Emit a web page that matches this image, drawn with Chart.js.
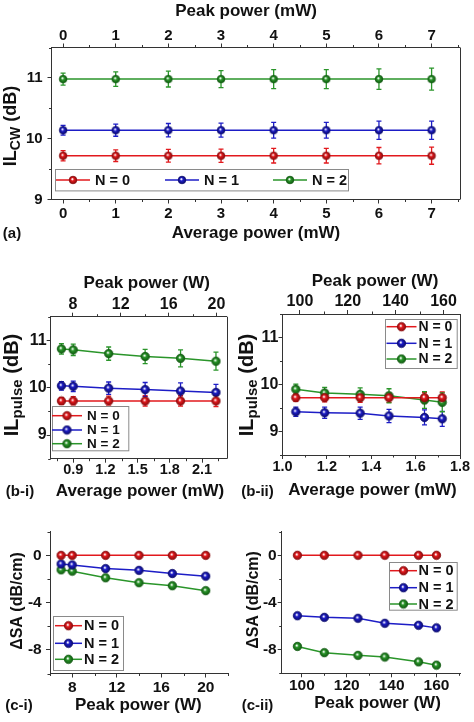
<!DOCTYPE html>
<html>
<head>
<meta charset="utf-8">
<script src="https://cdn.jsdelivr.net/npm/chart.js@4.4.0/dist/chart.umd.min.js"></script>
<style>
  html, body { margin: 0; padding: 0; background: #fff; }
  #page { position: relative; width: 474px; height: 722px; overflow: hidden; }
  #page canvas { position: absolute; }
</style>
</head>
<body>
<div id="page">
  <canvas id="chartA" width="474" height="245" style="left:0;top:0"></canvas>
  <canvas id="chartBi" width="237" height="240" style="left:0;top:265px"></canvas>
  <canvas id="chartBii" width="237" height="240" style="left:237px;top:265px"></canvas>
  <canvas id="chartCi" width="237" height="207" style="left:0;top:515px"></canvas>
  <canvas id="chartCii" width="237" height="207" style="left:237px;top:515px"></canvas>
</div>
<script>
// ---- data ----
const seriesNames = ["N = 0", "N = 1", "N = 2"];

// (a) CW
const avgPowerA = [0, 1, 2, 3, 4, 5, 6, 7];
const ilcwN0 = [9.72, 9.72, 9.72, 9.72, 9.72, 9.72, 9.72, 9.72];
const ilcwN1 = [10.14, 10.14, 10.14, 10.14, 10.14, 10.14, 10.14, 10.14];
const ilcwN2 = [10.98, 10.98, 10.98, 10.98, 10.98, 10.98, 10.98, 10.98];
const ilcwErrN0 = [0.085, 0.095, 0.105, 0.11, 0.12, 0.12, 0.135, 0.14];
const ilcwErrN1 = [0.08, 0.1, 0.11, 0.115, 0.13, 0.13, 0.15, 0.15];
const ilcwErrN2 = [0.1, 0.12, 0.13, 0.14, 0.155, 0.155, 0.17, 0.18];

// (b-i) pulse, lower peak powers
const avgPowerBi = [0.79, 0.90, 1.23, 1.57, 1.90, 2.23];
const ilpBiN0 = [9.72, 9.72, 9.72, 9.72, 9.72, 9.72];
const ilpBiN1 = [10.04, 10.03, 9.99, 9.96, 9.93, 9.90];
const ilpBiN2 = [10.82, 10.80, 10.72, 10.66, 10.62, 10.56];
const ilpBiErrN0 = [0.07, 0.09, 0.1, 0.11, 0.11, 0.12];
const ilpBiErrN1 = [0.09, 0.11, 0.13, 0.15, 0.17, 0.17];
const ilpBiErrN2 = [0.11, 0.12, 0.14, 0.15, 0.18, 0.19];

// (b-ii) pulse, higher peak powers
const avgPowerBii = [1.06, 1.19, 1.35, 1.48, 1.64, 1.72];
const ilpBiiN0 = [9.72, 9.72, 9.72, 9.72, 9.72, 9.72];
const ilpBiiN1 = [9.42, 9.40, 9.39, 9.33, 9.30, 9.27];
const ilpBiiN2 = [9.90, 9.82, 9.79, 9.76, 9.67, 9.62];
const ilpBiiErrN0 = [0.08, 0.09, 0.1, 0.1, 0.11, 0.12];
const ilpBiiErrN1 = [0.1, 0.12, 0.13, 0.14, 0.16, 0.16];
const ilpBiiErrN2 = [0.11, 0.12, 0.14, 0.15, 0.18, 0.2];

// (c-i) / (c-ii) saturable absorption
const peakPowerCi = [7, 8, 11, 14, 17, 20];
const dsaCiN0 = [0, 0, 0, 0, 0, 0];
const dsaCiN1 = [-0.73, -0.81, -1.12, -1.27, -1.54, -1.76];
const dsaCiN2 = [-1.23, -1.34, -1.9, -2.32, -2.57, -2.99];
const peakPowerCii = [98, 110, 125, 137, 152, 160];
const dsaCiiN0 = [0, 0, 0, 0, 0, 0];
const dsaCiiN1 = [-5.12, -5.26, -5.34, -5.76, -5.93, -6.15];
const dsaCiiN2 = [-7.72, -8.25, -8.48, -8.62, -9.03, -9.31];

// tick labels
const ticksA = [0, 1, 2, 3, 4, 5, 6, 7];
const ticksAy = [9, 10, 11];
const ticksBiAvg = [0.9, 1.2, 1.5, 1.8, 2.1];
const ticksBiPeak = [8, 12, 16, 20];
const ticksBiiAvg = [1.0, 1.2, 1.4, 1.6, 1.8];
const ticksBiiPeak = [100, 120, 140, 160];
const ticksBy = [9, 10, 11];
const ticksCiPeak = [8, 12, 16, 20];
const ticksCiiPeak = [100, 120, 140, 160];
const ticksCy = [0, -4, -8];

// ---- styling ----
const FONT = "'Liberation Sans', Arial, Helvetica, sans-serif";
const AXIS = "#333";
const TXT = "#111";
const COLORS = ["#e2191d", "#1d1dc6", "#2a952a"];
const DARK = ["#8a0a0c", "#0b0b70", "#105a10"];

// little shaded ball used as marker
function ball(color, dark, r) {
    const c = document.createElement("canvas");
    const s = Math.ceil(r * 2 + 2);
    c.width = c.height = s;
    const g = c.getContext("2d");
    const m = s / 2;
    const grad = g.createRadialGradient(m - r * 0.2, m - r * 0.25, r * 0.1, m, m, r);
    grad.addColorStop(0, "#ffffff");
    grad.addColorStop(0.35, color);
    grad.addColorStop(1, dark);
    g.fillStyle = grad;
    g.beginPath();
    g.arc(m, m, r, 0, Math.PI * 2);
    g.fill();
    g.lineWidth = 0.8;
    g.strokeStyle = dark;
    g.stroke();
    return c;
}

// error bars under the lines
const errorBars = {
    id: "errorBars",
    beforeDatasetsDraw(chart) {
        const ctx = chart.ctx;
        const ys = chart.scales.y;
        chart.data.datasets.forEach(function (ds, i) {
            if (!ds.errors) return;
            const meta = chart.getDatasetMeta(i);
            ctx.save();
            ctx.strokeStyle = ds.borderColor;
            ctx.lineWidth = 1.3;
            meta.data.forEach(function (pt, j) {
                const v = ds.data[j].y, e = ds.errors[j];
                const y1 = ys.getPixelForValue(v + e), y2 = ys.getPixelForValue(v - e);
                ctx.beginPath();
                ctx.moveTo(pt.x, y1); ctx.lineTo(pt.x, y2);
                ctx.moveTo(pt.x - 2.5, y1); ctx.lineTo(pt.x + 2.5, y1);
                ctx.moveTo(pt.x - 2.5, y2); ctx.lineTo(pt.x + 2.5, y2);
                ctx.stroke();
            });
            ctx.restore();
        });
    }
};

// minor ticks, right frame line, legend box and free texts
const decor = {
    id: "decor",
    afterDraw(chart, args, o) {
        const ctx = chart.ctx;
        const ca = chart.chartArea;
        const al = v => Math.round(v) + 0.5;
        ctx.save();
        ctx.strokeStyle = AXIS;
        ctx.lineWidth = 1;
        // minor ticks
        Object.keys(o.minor || {}).forEach(function (id) {
            const s = chart.scales[id];
            const step = o.minor[id];
            const majors = s.ticks.map(t => t.value);
            const k0 = Math.ceil(s.min / step - 1e-6), k1 = Math.floor(s.max / step + 1e-6);
            for (let k = k0; k <= k1; k++) {
                const v = k * step;
                if (majors.some(m => Math.abs(m - v) < step / 10)) continue;
                const p = al(s.getPixelForValue(v));
                ctx.beginPath();
                if (s.position === "bottom") { ctx.moveTo(p, ca.bottom); ctx.lineTo(p, ca.bottom + 2.5); }
                else if (s.position === "top") { ctx.moveTo(p, ca.top); ctx.lineTo(p, ca.top - 2.5); }
                else { ctx.moveTo(ca.left, p); ctx.lineTo(ca.left - 2.5, p); }
                ctx.stroke();
            }
        });
        if (o.frame) {
            ctx.beginPath();
            ctx.moveTo(al(ca.right), ca.top);
            ctx.lineTo(al(ca.right), ca.bottom);
            ctx.stroke();
        }
        const ox = o.pos[0], oy = o.pos[1];
        // legend
        if (o.legend) {
            const L = o.legend;
            ctx.fillStyle = "#fff";
            ctx.fillRect(L.box[0] - ox, L.box[1] - oy, L.box[2], L.box[3]);
            ctx.strokeStyle = "#8a8a8a";
            ctx.strokeRect(al(L.box[0] - ox), al(L.box[1] - oy), L.box[2], L.box[3]);
            ctx.font = "bold " + L.size + "px " + FONT;
            ctx.textBaseline = "middle";
            ctx.textAlign = "left";
            chart.data.datasets.forEach(function (ds, i) {
                const x0 = L.lineX[i] - ox, y0 = L.rowY[i] - oy;
                ctx.strokeStyle = ds.borderColor;
                ctx.lineWidth = 1.5;
                ctx.beginPath();
                ctx.moveTo(x0, y0); ctx.lineTo(x0 + L.lineLen, y0);
                ctx.stroke();
                const img = ds.pointStyle;
                ctx.drawImage(img, x0 + L.lineLen / 2 - img.width / 2, y0 - img.height / 2);
                ctx.fillStyle = TXT;
                ctx.fillText(ds.label, x0 + L.lineLen + L.gap, y0 + 0.5);
            });
        }
        // titles and panel labels
        (o.texts || []).forEach(function (t) {
            ctx.save();
            ctx.fillStyle = TXT;
            ctx.textBaseline = "middle";
            ctx.textAlign = "left";
            ctx.translate(t.x - ox, t.y - oy);
            if (t.rot) ctx.rotate(-Math.PI / 2);
            const main = "bold " + t.size + "px " + FONT;
            const small = "bold " + (t.subSize || t.size) + "px " + FONT;
            ctx.font = main; const w1 = ctx.measureText(t.text).width;
            ctx.font = small; const w2 = t.sub ? ctx.measureText(t.sub).width : 0;
            ctx.font = main; const w3 = t.rest ? ctx.measureText(t.rest).width : 0;
            let x = -(w1 + w2 + w3) / 2;
            ctx.font = main; ctx.fillText(t.text, x, 0); x += w1;
            if (t.sub) { ctx.font = small; ctx.fillText(t.sub, x, t.size * 0.28); x += w2; }
            if (t.rest) { ctx.font = main; ctx.fillText(t.rest, x, 0); }
            ctx.restore();
        });
        ctx.restore();
    }
};

function makeSeries(xs, ys, errs, i, r) {
    return {
        label: seriesNames[i],
        data: xs.map((x, j) => ({ x: x, y: ys[j] })),
        errors: errs || null,
        borderColor: COLORS[i],
        backgroundColor: COLORS[i],
        borderWidth: 1.5,
        pointStyle: ball(COLORS[i], DARK[i], r),
        pointRadius: r,
        pointHoverRadius: r,
        tension: 0,
        fill: false,
        xAxisID: "x",
        yAxisID: "y"
    };
}

function axis(a, position, fit) {
    return {
        type: "linear",
        position: position,
        display: true,
        min: a.min,
        max: a.max,
        afterBuildTicks: function (s) { s.ticks = a.ticks.map(v => ({ value: v })); },
        afterFit: fit,
        ticks: {
            font: { family: FONT, weight: "bold", size: a.font || 15, lineHeight: 1 },
            color: TXT,
            padding: a.pad || 0,
            maxRotation: 0,
            autoSkip: false,
            callback: v => Number(v).toFixed(a.dec || 0)
        },
        grid: { display: true, drawOnChartArea: false, drawTicks: true, tickLength: 4, tickColor: AXIS, tickWidth: 1 },
        border: { display: true, color: AXIS, width: 1 },
        title: { display: false }
    };
}

function panel(id, o) {
    const cv = document.getElementById(id);
    const W = cv.width, H = cv.height;
    const b = {
        l: o.area.l - o.pos[0], t: o.area.t - o.pos[1],
        r: o.area.r - o.pos[0], b: o.area.b - o.pos[1]
    };
    const scales = {
        x: axis(o.x, "bottom", s => { s.height = H - b.b; s.paddingLeft = 0; s.paddingRight = 0; }),
        y: axis(o.y, "left", s => { s.width = b.l; s.paddingTop = 0; s.paddingBottom = 0; })
    };
    if (o.x2) {
        scales.x2 = axis(o.x2, "top", s => { s.height = b.t; s.paddingLeft = 0; s.paddingRight = 0; });
    }
    return new Chart(cv.getContext("2d"), {
        type: "line",
        data: { datasets: o.series },
        options: {
            responsive: false,
            animation: false,
            events: [],
            layout: { padding: { left: 0, top: o.x2 ? 0 : b.t, right: W - b.r, bottom: 0 } },
            plugins: {
                legend: { display: false },
                tooltip: { enabled: false },
                decor: { pos: o.pos, minor: o.minor, frame: o.frame, legend: o.legend, texts: o.texts }
            },
            scales: scales
        },
        plugins: [errorBars, decor]
    });
}

// (a)
panel("chartA", {
    pos: [0, 0],
    area: { l: 51.5, t: 47.5, r: 459.5, b: 199.5 },
    x: { min: -0.22, max: 7.53, ticks: ticksA, pad: 3, font: 15 },
    x2: { min: -0.22, max: 7.53, ticks: ticksA, pad: 0.3, font: 15 },
    y: { min: 9, max: 11.5, ticks: ticksAy, pad: 4.8, font: 15 },
    minor: { x: 0.5, x2: 0.5, y: 0.5 },
    frame: true,
    series: [
        makeSeries(avgPowerA, ilcwN0, ilcwErrN0, 0, 3.8),
        makeSeries(avgPowerA, ilcwN1, ilcwErrN1, 1, 3.8),
        makeSeries(avgPowerA, ilcwN2, ilcwErrN2, 2, 3.8)
    ],
    legend: { box: [55, 169.3, 293, 21.4], lineX: [56, 165, 273], rowY: [180, 180, 180], lineLen: 34, gap: 5, size: 14.5 },
    texts: [
        { text: "Peak power (mW)", x: 246, y: 11, size: 17 },
        { text: "Average power (mW)", x: 256, y: 233, size: 17 },
        { text: "(a)", x: 12, y: 234, size: 15 },
        { text: "IL", sub: "CW", rest: " (dB)", x: 11, y: 126, size: 18, subSize: 14, rot: true }
    ]
});

// (b-i)
panel("chartBi", {
    pos: [0, 265],
    area: { l: 50.7, t: 316.7, r: 226.7, b: 458.7 },
    x: { min: 0.69, max: 2.33, ticks: ticksBiAvg, pad: 0, font: 14.5, dec: 1 },
    x2: { min: 6.15, max: 20.85, ticks: ticksBiPeak, pad: 0, font: 16 },
    y: { min: 8.5, max: 11.5, ticks: ticksBy, pad: 0, font: 16 },
    minor: { x: 0.15, x2: 2, y: 0.5 },
    frame: true,
    series: [
        makeSeries(avgPowerBi, ilpBiN0, ilpBiErrN0, 0, 4.2),
        makeSeries(avgPowerBi, ilpBiN1, ilpBiErrN1, 1, 4.2),
        makeSeries(avgPowerBi, ilpBiN2, ilpBiErrN2, 2, 4.2)
    ],
    legend: { box: [51.7, 405.7, 76.3, 44.3], lineX: [52, 52, 52], rowY: [415.7, 430, 443.7], lineLen: 30, gap: 5, size: 13.5 },
    texts: [
        { text: "Peak power (W)", x: 146.7, y: 283, size: 17 },
        { text: "Average power (mW)", x: 140, y: 491, size: 17 },
        { text: "(b-i)", x: 20, y: 492, size: 15 },
        { text: "IL", sub: "pulse", rest: " (dB)", x: 12, y: 385, size: 20, subSize: 15, rot: true }
    ]
});

// (b-ii)
panel("chartBii", {
    pos: [237, 265],
    area: { l: 282.5, t: 314, r: 460, b: 455 },
    x: { min: 1.0, max: 1.8, ticks: ticksBiiAvg, pad: 0.5, font: 14.5, dec: 1 },
    x2: { min: 92.7, max: 166.9, ticks: ticksBiiPeak, pad: 0, font: 16 },
    y: { min: 8.5, max: 11.5, ticks: ticksBy, pad: 0.2, font: 16 },
    minor: { x: 0.1, x2: 10, y: 0.5 },
    frame: true,
    series: [
        makeSeries(avgPowerBii, ilpBiiN0, ilpBiiErrN0, 0, 4.2),
        makeSeries(avgPowerBii, ilpBiiN1, ilpBiiErrN1, 1, 4.2),
        makeSeries(avgPowerBii, ilpBiiN2, ilpBiiErrN2, 2, 4.2)
    ],
    legend: { box: [385, 319, 71.7, 49], lineX: [386.5, 386.5, 386.5], rowY: [326.7, 343.3, 359], lineLen: 30, gap: 2, size: 14 },
    texts: [
        { text: "Peak power (W)", x: 375, y: 281.5, size: 17 },
        { text: "Average power (mW)", x: 372.5, y: 490, size: 17 },
        { text: "(b-ii)", x: 257.5, y: 492, size: 15 },
        { text: "IL", sub: "pulse", rest: " (dB)", x: 247, y: 385, size: 20, subSize: 15, rot: true }
    ]
});

// (c-i)
panel("chartCi", {
    pos: [0, 515],
    area: { l: 50, t: 531.7, r: 228, b: 673.5 },
    x: { min: 6, max: 22, ticks: ticksCiPeak, pad: 2.7, font: 15.5 },
    y: { min: -10, max: 2, ticks: ticksCy, pad: 4.3, font: 15.5 },
    minor: { x: 2, y: 2 },
    frame: false,
    series: [
        makeSeries(peakPowerCi, dsaCiN0, null, 0, 4.2),
        makeSeries(peakPowerCi, dsaCiN1, null, 1, 4.2),
        makeSeries(peakPowerCi, dsaCiN2, null, 2, 4.2)
    ],
    legend: { box: [53, 616, 70, 54], lineX: [55, 55, 55], rowY: [625.7, 643.3, 659.3], lineLen: 27, gap: 2, size: 14.5 },
    texts: [
        { text: "Peak power (W)", x: 138.3, y: 705, size: 17 },
        { text: "(c-i)", x: 19, y: 706, size: 15 },
        { text: "\u0394SA (dB/cm)", x: 17.5, y: 601, size: 16, rot: true }
    ]
});

// (c-ii)
panel("chartCii", {
    pos: [237, 515],
    area: { l: 281.7, t: 531.7, r: 460, b: 673.3 },
    x: { min: 91, max: 170.5, ticks: ticksCiiPeak, pad: 0.2, font: 15.5 },
    y: { min: -10, max: 2, ticks: ticksCy, pad: 1, font: 15.5 },
    minor: { x: 10, y: 2 },
    frame: false,
    series: [
        makeSeries(peakPowerCii, dsaCiiN0, null, 0, 4.2),
        makeSeries(peakPowerCii, dsaCiiN1, null, 1, 4.2),
        makeSeries(peakPowerCii, dsaCiiN2, null, 2, 4.2)
    ],
    legend: { box: [389, 562.3, 67.7, 47.7], lineX: [390, 390, 390], rowY: [570.7, 587.7, 604], lineLen: 27, gap: 1.5, size: 14.5 },
    texts: [
        { text: "Peak power (W)", x: 377.5, y: 703.5, size: 17 },
        { text: "(c-ii)", x: 257.5, y: 706, size: 15 },
        { text: "\u0394SA (dB/cm)", x: 254, y: 600, size: 16, rot: true }
    ]
});
</script>
</body>
</html>
